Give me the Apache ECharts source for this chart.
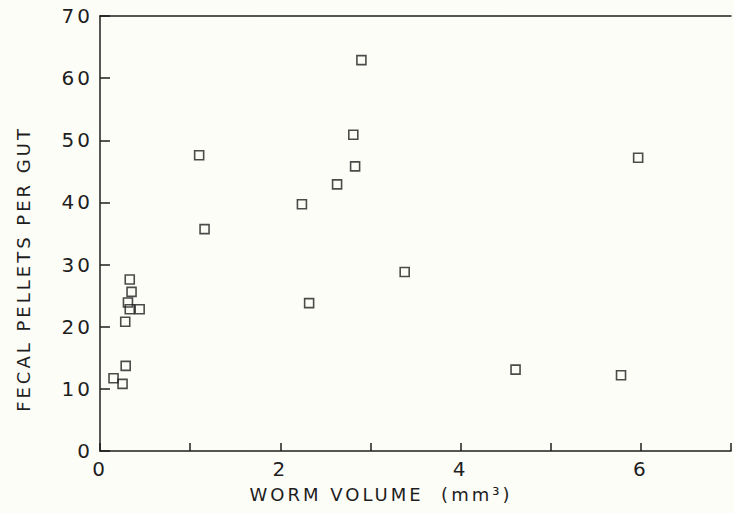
<!DOCTYPE html>
<html>
<head>
<meta charset="utf-8">
<script src="https://cdn.jsdelivr.net/npm/echarts@6/dist/echarts.min.js"></script>
<style>
html,body{margin:0;padding:0;background:#fdfdf8;}
#c{width:734px;height:513px;}
#c svg text{letter-spacing:3px;}
</style>
</head>
<body>
<div id="c"></div>
<script>
// Worm volume (mm^3)
const wormVolume = [0.15, 0.25, 0.285, 0.28, 0.31, 0.33, 0.44, 0.35, 0.33, 1.10, 1.16, 2.24, 2.32, 2.63, 2.81, 2.83, 2.90, 3.38, 4.61, 5.78, 5.97];
// Fecal pellets per gut
const fecalPellets = [11.7, 10.8, 13.7, 20.8, 23.9, 22.8, 22.8, 25.6, 27.6, 47.6, 35.7, 39.7, 23.8, 42.9, 50.9, 45.8, 62.9, 28.8, 13.1, 12.2, 47.2];
const xTickLabels = ['0', '2', '4', '6'];
const yTickLabels = ['0', '10', '20', '30', '40', '50', '60', '70'];

const points = wormVolume.map((v, i) => [v, fecalPellets[i]]);
const ink = '#1e1e1e';
const font = 'DejaVu Sans';

const chart = echarts.init(document.getElementById('c'), null, {renderer: 'svg'});
chart.setOption({
  backgroundColor: '#fdfdf8',
  animation: false,
  grid: {left: 100, top: 16, width: 637, height: 435, containLabel: false},
  xAxis: [{
    type: 'value', min: 0, max: 7, interval: 1,
    name: 'WORM VOLUME  (mm³)', nameLocation: 'middle', nameGap: 34,
    nameTextStyle: {color: ink, fontFamily: font, fontSize: 18, padding: [0, 69, 0, 0]},
    axisLine: {show: true, lineStyle: {color: ink, width: 1.5}},
    axisTick: {show: true, inside: true, length: 8, lineStyle: {color: ink, width: 1.5}},
    axisLabel: {color: ink, fontFamily: font, fontSize: 20, margin: 8,
      formatter: function (v) { const s = String(v); return xTickLabels.indexOf(s) >= 0 ? s : ''; }},
    splitLine: {show: false}
  }, {
    type: 'value', min: 0, max: 7, position: 'top',
    axisLine: {show: true, lineStyle: {color: ink, width: 1.5}},
    axisTick: {show: false}, axisLabel: {show: false}, splitLine: {show: false}
  }],
  yAxis: {
    type: 'value', min: 0, max: 70, interval: 10,
    name: 'FECAL PELLETS PER GUT', nameLocation: 'middle', nameGap: 68,
    nameTextStyle: {color: ink, fontFamily: font, fontSize: 18, padding: [0, 71, 0, 0]},
    axisLine: {show: true, lineStyle: {color: ink, width: 1.5}},
    axisTick: {show: true, inside: true, length: 10, lineStyle: {color: ink, width: 1.5}},
    axisLabel: {color: ink, fontFamily: font, fontSize: 20, margin: 7,
      formatter: function (v) { const s = String(v); return yTickLabels.indexOf(s) >= 0 ? s : ''; }},
    splitLine: {show: false}
  },
  series: [{
    type: 'scatter', xAxisIndex: 0,
    data: points,
    symbol: 'rect', symbolSize: 9,
    itemStyle: {color: 'rgba(0,0,0,0)', borderColor: ink, borderWidth: 1.6}
  }]
});
</script>
</body>
</html>
